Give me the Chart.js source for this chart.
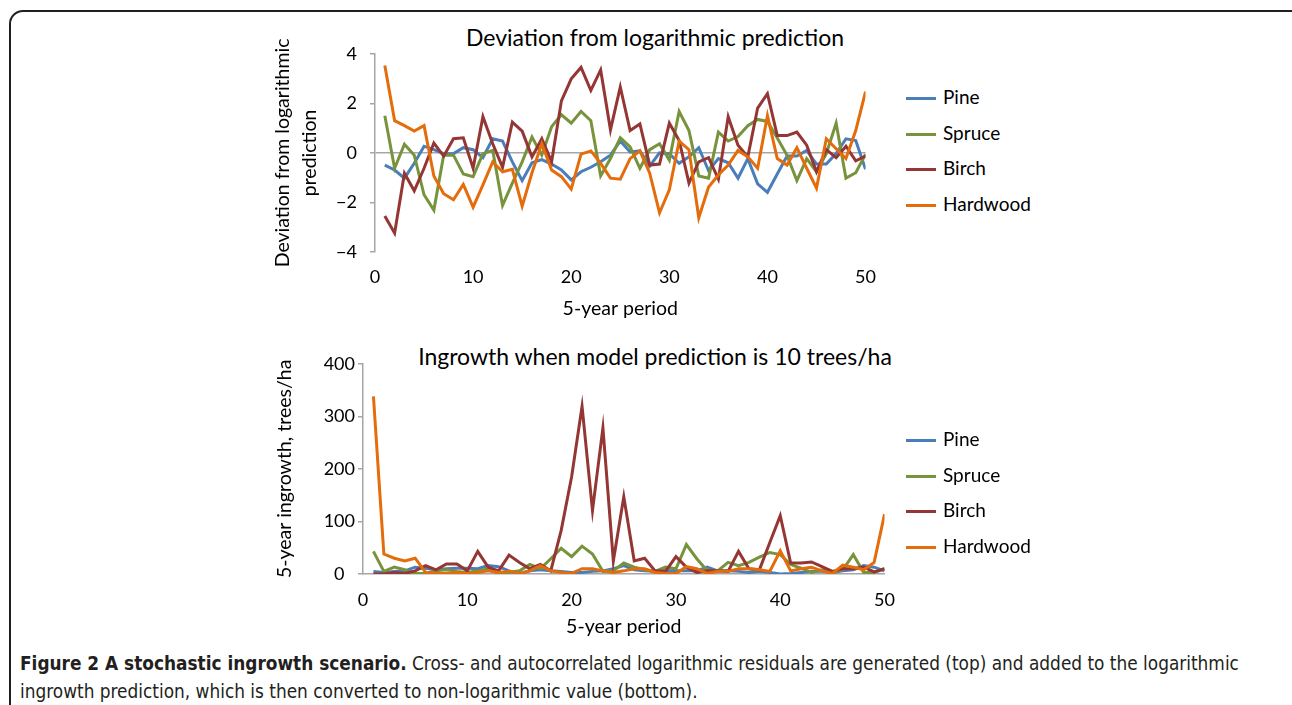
<!DOCTYPE html>
<html>
<head>
<meta charset="utf-8">
<script src="https://cdn.jsdelivr.net/npm/chart.js@4.4.1/dist/chart.umd.min.js"></script>
<style>
    body { margin: 0; width: 1292px; height: 705px; overflow: hidden; background: #fff; position: relative; font-family: Lato, sans-serif; }
    .frame { position: absolute; left: 9px; top: 10px; width: 1300px; height: 720px; border: 2px solid #231f20; border-radius: 14px; }
    canvas { position: absolute; }
    .chart-title { position: absolute; width: 700px; left: 305px; text-align: center; font-size: 23px; line-height: 28px; color: #000; white-space: nowrap; }
    .legend-item { position: absolute; left: 906px; font-size: 19px; color: #000; }
    .legend-item span.swatch { position: absolute; left: 0; top: 0; width: 30px; height: 3px; }
    .legend-item span.label { position: absolute; left: 37px; top: -12px; line-height: 24px; white-space: nowrap; }
    .caption { position: absolute; left: 20px; top: 650px; font-family: "Liberation Sans Narrow", "DejaVu Sans Condensed", sans-serif; font-size: 18.85px; line-height: 28px; color: #231f20; white-space: nowrap; }
</style>
</head>
<body>
<div class="frame"></div>
<div class="chart-title" style="top: 23px;">Deviation from logarithmic prediction</div>
<div class="chart-title" style="top: 342px;">Ingrowth when model prediction is 10 trees/ha</div>
<canvas id="devChart" width="640" height="300" style="left: 250px; top: 30px;"></canvas>
<canvas id="ingChart" width="660" height="290" style="left: 250px; top: 350px;"></canvas>
<div id="devLegend"></div>
<div id="ingLegend"></div>
<div class="caption"><b>Figure 2 A stochastic ingrowth scenario.</b> Cross- and autocorrelated logarithmic residuals are generated (top) and added to the logarithmic<br>ingrowth prediction, which is then converted to non-logarithmic value (bottom).</div>

<script>
const periods = [1, 2, 3, 4, 5, 6, 7, 8, 9, 10, 11, 12, 13, 14, 15, 16, 17, 18, 19, 20,
    21, 22, 23, 24, 25, 26, 27, 28, 29, 30, 31, 32, 33, 34, 35, 36, 37, 38, 39, 40,
    41, 42, 43, 44, 45, 46, 47, 48, 49, 50];

const species = ['Pine', 'Spruce', 'Birch', 'Hardwood'];
const colors = ['#4a7ebb', '#77933c', '#943634', '#e46c0a'];

// deviation from logarithmic prediction (top)
const pineDev = [-0.49, -0.69, -1.02, -0.42, 0.27, 0.13, -0.03, -0.03, 0.21, 0.13,
    -0.19, 0.57, 0.48, -0.36, -1.12, -0.4, -0.27, -0.45, -0.69, -1.09,
    -0.76, -0.58, -0.36, -0.09, 0.48, 0.04, 0.08, -0.53, 0, -0.03,
    -0.42, -0.16, 0.21, -0.72, -0.23, -0.4, -1.02, -0.23, -1.25, -1.59,
    -0.85, -0.13, -0.13, 0.1, -0.45, -0.45, -0.03, 0.57, 0.5, -0.66];
const spruceDev = [1.5, -0.62, 0.35, -0.09, -1.69, -2.31, -0.09, -0.09, -0.85, -0.96,
    -0.03, 0.1, -2.12, -1.22, -0.36, 0.64, -0.09, 1.06, 1.54, 1.2,
    1.67, 1.3, -0.93, -0.23, 0.61, 0.24, -0.62, 0.13, 0.37, -0.29,
    1.67, 0.9, -0.93, -1.02, 0.84, 0.48, 0.66, 1.1, 1.35, 1.27,
    0.6, -0.1, -1.12, -0.23, -0.76, -0.03, 1.2, -1.02, -0.8, -0.05];
const birchDev = [-2.55, -3.24, -0.82, -1.53, -0.62, 0.4, -0.13, 0.57, 0.61, -0.62,
    1.46, 0.37, -0.58, 1.24, 0.88, -0.16, 0.57, -0.36, 2.1, 2.99,
    3.45, 2.52, 3.35, 0.93, 2.66, 0.9, 1.17, -0.49, -0.45, 1.2,
    0.5, -1.22, -0.36, -0.19, -1.06, 1.46, 0.31, -0.16, 1.81, 2.39,
    0.7, 0.7, 0.84, 0.31, -0.76, 0.13, -0.19, 0.27, -0.32, -0.13];
const hardwoodDev = [3.53, 1.3, 1.1, 0.88, 1.1, -0.93, -1.65, -1.89, -1.27, -2.19,
    -1.29, -0.36, -0.76, -0.66, -2.15, -0.8, 0.37, -0.69, -0.96, -1.46,
    -0.05, 0.08, -0.42, -1.02, -1.06, -0.23, 0.08, -0.82, -2.42, -1.49,
    0.48, 0.13, -2.62, -1.38, -0.89, -0.49, 0.1, -0.16, -0.62, 1.5,
    -0.23, -0.49, 0.21, -0.62, -1.42, 0.57, 0.17, -0.23, 0.9, 2.47];

// 5-year ingrowth, trees/ha (bottom)
const pineIng = [5, 3, 5, 6, 13, 11, 8, 10, 11, 11,
    10, 16, 14, 6, 1, 6, 8, 6, 5, 3,
    3, 5, 6, 10, 16, 8, 6, 5, 6, 6,
    6, 6, 13, 6, 6, 5, 3, 5, 3, 0,
    1, 3, 5, 5, 3, 6, 8, 16, 13, 6];
const spruceIng = [43, 5, 13, 8, 1, 1, 6, 8, 5, 3,
    6, 10, 1, 3, 6, 18, 10, 29, 49, 33,
    53, 38, 5, 6, 21, 13, 8, 5, 13, 10,
    56, 29, 6, 6, 22, 16, 22, 32, 41, 37,
    18, 11, 3, 8, 3, 8, 37, 3, 3, 10];
const birchIng = [0, 0, 3, 1, 6, 16, 8, 19, 19, 6,
    43, 13, 6, 36, 22, 10, 18, 6, 83, 185,
    319, 121, 278, 25, 147, 25, 30, 6, 5, 33,
    13, 3, 6, 6, 5, 43, 10, 8, 60, 111,
    21, 21, 23, 14, 5, 10, 10, 13, 4, 10];
const hardwoodIng = [338, 38, 30, 25, 30, 3, 1, 1, 3, 1,
    3, 6, 3, 5, 1, 6, 16, 6, 3, 1,
    10, 10, 6, 3, 6, 10, 10, 3, 1, 1,
    14, 10, 1, 5, 5, 10, 10, 8, 5, 44,
    6, 10, 13, 6, 1, 17, 13, 8, 22, 114];

const periodTicks = [0, 10, 20, 30, 40, 50];
const devTicks = [-4, -2, 0, 2, 4];
const ingTicks = [0, 100, 200, 300, 400];

const fontFamily = 'Lato, sans-serif';
const axisGray = '#a6a6a6';

function toPoints(values) {
    return periods.map((p, i) => ({ x: p, y: values[i] }));
}

function buildDatasets(seriesList) {
    return seriesList.map((values, i) => ({
        label: species[i],
        data: toPoints(values),
        borderColor: colors[i],
        backgroundColor: colors[i],
        borderWidth: 3,
        pointRadius: 0,
        tension: 0,
        fill: false,
        order: seriesList.length - i
    }));
}

function useTicks(list) {
    return scale => {
        scale.ticks = list.map(v => ({ value: v }));
    };
}

function minusSign(v) {
    return String(v).replace('-', '\u2212');
}

function buildLegend(id, top) {
    const box = document.getElementById(id);
    species.forEach((name, i) => {
        const item = document.createElement('div');
        item.className = 'legend-item';
        item.style.top = (top + i * 35.5) + 'px';
        item.innerHTML = `<span class="swatch" style="background:${colors[i]}"></span><span class="label">${name}</span>`;
        box.appendChild(item);
    });
}

function createDeviationChart() {
    const ctx = document.getElementById('devChart');
    new Chart(ctx, {
        type: 'line',
        data: { datasets: buildDatasets([pineDev, spruceDev, birchDev, hardwoodDev]) },
        options: {
            responsive: false,
            animation: false,
            layout: { padding: { top: 18, right: 20, left: 0, bottom: 0 } },
            plugins: { legend: { display: false }, tooltip: { enabled: false } },
            scales: {
                x: {
                    type: 'linear',
                    min: 0,
                    max: 50,
                    afterBuildTicks: useTicks(periodTicks),
                    afterFit: scale => { scale.height = 78; },
                    grid: { display: false, drawTicks: false },
                    border: { display: false },
                    ticks: { color: '#000', padding: 14, font: { family: fontFamily, size: 18 } },
                    title: {
                        display: true,
                        text: '5-year period',
                        color: '#000',
                        padding: { top: 0, bottom: 10 },
                        font: { family: fontFamily, size: 19.5 }
                    }
                },
                y: {
                    min: -4,
                    max: 4,
                    afterBuildTicks: useTicks(devTicks),
                    afterFit: scale => { scale.width = 125; },
                    grid: {
                        drawOnChartArea: true,
                        color: c => (c.tick && c.tick.value === 0 ? axisGray : 'rgba(0,0,0,0)'),
                        tickColor: axisGray,
                        tickLength: 5,
                        lineWidth: 1.5
                    },
                    border: { display: true, color: axisGray, width: 1.5 },
                    ticks: {
                        color: '#000',
                        padding: 13,
                        font: { family: fontFamily, size: 18 },
                        callback: v => minusSign(v)
                    },
                    title: {
                        display: true,
                        text: ['Deviation from logarithmic', 'prediction'],
                        color: '#000',
                        padding: { top: 19.5, bottom: 0 },
                        font: { family: fontFamily, size: 19.5, lineHeight: 1.385 }
                    }
                }
            }
        }
    });
}

function createIngrowthChart() {
    const ctx = document.getElementById('ingChart');
    new Chart(ctx, {
        type: 'line',
        data: { datasets: buildDatasets([pineIng, spruceIng, birchIng, hardwoodIng]) },
        options: {
            responsive: false,
            animation: false,
            layout: { padding: { top: 12, right: 25, left: 0, bottom: 0 } },
            plugins: { legend: { display: false }, tooltip: { enabled: false } },
            scales: {
                x: {
                    type: 'linear',
                    min: 0,
                    max: 50,
                    afterBuildTicks: useTicks(periodTicks),
                    afterFit: scale => { scale.height = 66; },
                    grid: { display: false, drawTicks: false },
                    border: { display: true, color: axisGray, width: 1.5 },
                    ticks: { color: '#000', padding: 15, font: { family: fontFamily, size: 18 } },
                    title: {
                        display: true,
                        text: '5-year period',
                        color: '#000',
                        padding: { top: 0, bottom: 2 },
                        font: { family: fontFamily, size: 19.5 }
                    }
                },
                y: {
                    min: 0,
                    max: 400,
                    afterBuildTicks: useTicks(ingTicks),
                    afterFit: scale => { scale.width = 113; },
                    grid: {
                        drawOnChartArea: false,
                        tickColor: axisGray,
                        tickLength: 5,
                        lineWidth: 1.5
                    },
                    border: { display: true, color: axisGray, width: 1.5 },
                    ticks: { color: '#000', padding: 3, crossAlign: 'center', font: { family: fontFamily, size: 18 } },
                    title: {
                        display: true,
                        text: '5-year ingrowth, trees/ha',
                        color: '#000',
                        padding: { top: 23, bottom: 0 },
                        font: { family: fontFamily, size: 19.5 }
                    }
                }
            }
        }
    });
}

window.addEventListener('DOMContentLoaded', () => {
    createDeviationChart();
    createIngrowthChart();
    buildLegend('devLegend', 97);
    buildLegend('ingLegend', 439);
});
</script>
</body>
</html>
